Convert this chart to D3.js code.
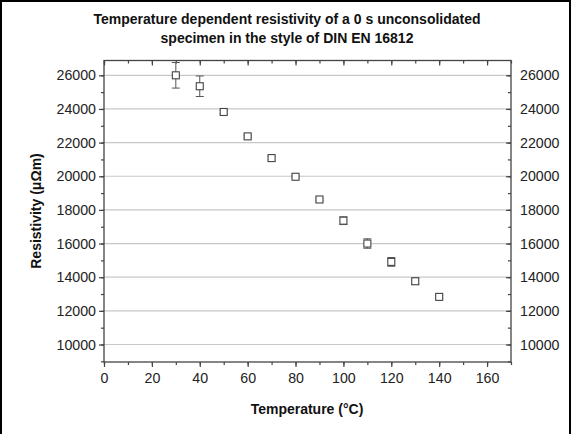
<!DOCTYPE html>
<html><head><meta charset="utf-8">
<script src="https://cdn.jsdelivr.net/npm/d3@7"></script>
<style>
html,body{margin:0;padding:0;background:#fff;}
svg{display:block;font-family:"Liberation Sans",Arial,sans-serif;}
</style></head>
<body><svg id="c" width="572" height="434"></svg>
<script>
const temperatures = [30, 40, 50, 60, 70, 80, 90, 100, 110, 120, 130, 140];
const resistivity = [26000, 25350, 23820, 22370, 21080, 19970, 18620, 17360, 16000, 14910, 13760, 12830];
const errors = [760, 610, 100, 80, 110, 60, 80, 230, 280, 260, 170, 100];
const xTicks = [0, 20, 40, 60, 80, 100, 120, 140, 160];
const yTicks = [10000, 12000, 14000, 16000, 18000, 20000, 22000, 24000, 26000];
const titleLines = ["Temperature dependent resistivity of a 0 s unconsolidated", "specimen in the style of DIN EN 16812"];

const svg = d3.select("#c");
const L = 104, R = 511, T = 60.5, B = 362;
const x = d3.scaleLinear().domain([0, 170]).range([L, R]);
const y = d3.scaleLinear().domain([8960, 26880]).range([B, T]);

svg.append("rect").attr("x",1).attr("y",1).attr("width",569).attr("height",460)
  .attr("fill","none").attr("stroke","#000").attr("stroke-width",2);

// gridlines
svg.append("g").selectAll("line").data(yTicks).join("line")
  .attr("x1", L).attr("x2", R).attr("y1", d=>y(d)).attr("y2", d=>y(d))
  .attr("stroke", "#c8c8c8").attr("stroke-width", 1.2);

const axisColor = "#444";
const minorX = d3.range(0, 171, 10);
const minorY = d3.range(9000, 26880, 1000);

function styleAxis(g){
  g.selectAll(".domain").remove();
  g.selectAll("line").attr("stroke", axisColor).attr("stroke-width", 1.2);
  g.selectAll("text").attr("fill", "#222").style("font-size", "14.2px");
}
// minor ticks
svg.append("g").attr("transform",`translate(0,${B})`)
  .call(d3.axisBottom(x).tickValues(minorX).tickSize(3).tickFormat("")).call(styleAxis);
svg.append("g").attr("transform",`translate(0,${T})`)
  .call(d3.axisBottom(x).tickValues(minorX).tickSize(3).tickFormat("")).call(styleAxis);
svg.append("g").attr("transform",`translate(${L},0)`)
  .call(d3.axisLeft(y).tickValues(minorY).tickSize(3).tickFormat("")).call(styleAxis);
svg.append("g").attr("transform",`translate(${R},0)`)
  .call(d3.axisLeft(y).tickValues(minorY).tickSize(3).tickFormat("")).call(styleAxis);
// major
svg.append("g").attr("transform",`translate(0,${B})`)
  .call(d3.axisBottom(x).tickValues(xTicks).tickSize(5).tickPadding(6).tickFormat(d3.format("d"))).call(styleAxis);
svg.append("g").attr("transform",`translate(${L},0)`)
  .call(d3.axisLeft(y).tickValues(yTicks).tickSize(5).tickPadding(3).tickFormat(d3.format("d"))).call(styleAxis);
svg.append("g").attr("transform",`translate(${R},0)`)
  .call(d3.axisRight(y).tickValues(yTicks).tickSize(0).tickPadding(9).tickFormat(d3.format("d"))).call(styleAxis);
svg.append("g").attr("transform",`translate(${R},0)`)
  .call(d3.axisLeft(y).tickValues(yTicks).tickSize(5).tickFormat("")).call(styleAxis);
svg.append("g").attr("transform",`translate(0,${T})`)
  .call(d3.axisBottom(x).tickValues(xTicks).tickSize(5).tickFormat("")).call(styleAxis);

// frame
svg.append("rect").attr("x",L).attr("y",T).attr("width",R-L).attr("height",B-T)
  .attr("fill","none").attr("stroke",axisColor).attr("stroke-width",1.3);

// error bars
const data = temperatures.map((t,i)=>({t, v: resistivity[i], e: errors[i]}));
const eb = svg.append("g").attr("stroke","#555").attr("stroke-width",1);
data.forEach(d=>{
  const cx = x(d.t);
  eb.append("line").attr("x1",cx).attr("x2",cx).attr("y1",y(d.v+d.e)).attr("y2",y(d.v-d.e));
  [d.v+d.e, d.v-d.e].forEach(v=>eb.append("line").attr("x1",cx-4).attr("x2",cx+4).attr("y1",y(v)).attr("y2",y(v)));
});
svg.append("g").selectAll("rect").data(data).join("rect")
  .attr("x", d=>x(d.t)-3.5).attr("y", d=>y(d.v)-3.5).attr("width",7).attr("height",7)
  .attr("fill","#fff").attr("stroke","#444").attr("stroke-width",1.1);

// titles
svg.append("text").attr("x",287).attr("y",24).attr("text-anchor","middle")
  .style("font-size","14px").style("font-weight","bold").attr("fill","#111")
  .selectAll("tspan").data(titleLines).join("tspan")
  .attr("x",287).attr("dy",(d,i)=>i? "19":"0").text(d=>d);

svg.append("text").attr("x",307).attr("y",414).attr("text-anchor","middle")
  .style("font-size","14px").style("font-weight","bold").attr("fill","#111")
  .text("Temperature (°C)");
svg.append("text").attr("transform","translate(41,211) rotate(-90)").attr("text-anchor","middle")
  .style("font-size","14px").style("font-weight","bold").attr("fill","#111")
  .text("Resistivity (μΩm)");
</script></body></html>
